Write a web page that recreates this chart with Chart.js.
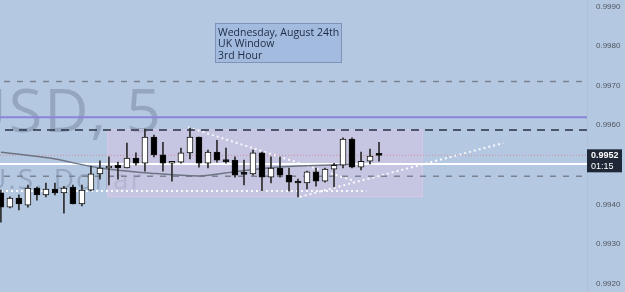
<!DOCTYPE html>
<html>
<head>
<meta charset="utf-8">
<script src="https://cdn.jsdelivr.net/npm/chart.js@4.4.0/dist/chart.umd.min.js"></script>
<style>
  html, body { margin: 0; padding: 0; background: #b4c8e1; }
  canvas { display: block; }
</style>
</head>
<body>
<canvas id="chart" width="625" height="292"></canvas>
<script>
// EURUSD 5 min candles
const opens  = [0.99429,0.99393,0.99416,0.99398,0.99441,0.99424,0.99439,0.99429,0.99444,0.99401,0.99436,0.99477,0.99492,0.99499,0.99492,0.99517,0.99504,0.99570,0.99525,0.99504,0.99507,0.99530,0.99570,0.99504,0.99532,0.99509,0.99512,0.99477,0.99477,0.99530,0.99469,0.99492,0.99474,0.99459,0.99454,0.99482,0.99459,0.99489,0.99499,0.99565,0.99494,0.99509,0.99525];
const highs  = [0.99436,0.99419,0.99424,0.99449,0.99444,0.99454,0.99454,0.99446,0.99449,0.99449,0.99497,0.99510,0.99520,0.99507,0.99555,0.99530,0.99590,0.99575,0.99557,0.99509,0.99542,0.99593,0.99570,0.99537,0.99562,0.99542,0.99520,0.99512,0.99537,0.99532,0.99520,0.99520,0.99492,0.99464,0.99484,0.99492,0.99492,0.99504,0.99568,0.99568,0.99532,0.99540,0.99557];
const lows   = [0.99355,0.99391,0.99386,0.99393,0.99411,0.99419,0.99424,0.99378,0.99401,0.99396,0.99434,0.99464,0.99449,0.99464,0.99492,0.99499,0.99484,0.99520,0.99484,0.99459,0.99504,0.99515,0.99494,0.99492,0.99507,0.99504,0.99469,0.99449,0.99474,0.99434,0.99454,0.99469,0.99434,0.99419,0.99439,0.99446,0.99456,0.99444,0.99492,0.99492,0.99487,0.99502,0.99509];
const closes = [0.99393,0.99416,0.99401,0.99441,0.99424,0.99439,0.99429,0.99441,0.99401,0.99436,0.99477,0.99492,0.99497,0.99492,0.99517,0.99504,0.99570,0.99525,0.99504,0.99509,0.99530,0.99570,0.99504,0.99532,0.99512,0.99508,0.99474,0.99476,0.99530,0.99469,0.99492,0.99474,0.99456,0.99454,0.99482,0.99459,0.99489,0.99499,0.99565,0.99494,0.99509,0.99522,0.99524];

// moving average (bar index, price)
const maIdx  = [0, 5.4, 11, 16.6, 22, 25.8, 29.6, 33.2, 39.3];
const maVals = [0.99532, 0.99517, 0.99492, 0.99479, 0.99472, 0.99482, 0.99492, 0.99497, 0.99502];

// horizontal levels
const upperDash  = 0.99710;
const purpleLine = 0.99620;
const darkDash   = 0.99588;
const lastPrice  = 0.99524;
const whiteLine  = 0.99502;
const lowerDash  = 0.99471;
const dotLow     = 0.99434;
const dotLowEnd  = 40.6;

// trend lines: [startIdx, endIdx], [startPrice, endPrice]
const downIdx = [20.8, 39.3], downPx = [0.99595, 0.99459];
const upIdx   = [33.2, 55.8], upPx   = [0.99419, 0.99555];

// session box
const boxIdx = [11.8, 46.9], boxPx = [0.99418, 0.99590];

const yTicks = [0.9920, 0.9930, 0.9940, 0.9950, 0.9960, 0.9970, 0.9980, 0.9990];
const noteLines = ['Wednesday, August 24th', 'UK Window', '3rd Hour'];
const tagTime = '01:15';

const xMin = -0.1, xMax = 65.1;
const idx = opens.map((_, i) => i);

const hline = (v, color, width, dash, from = xMin - 1, to = xMax + 1) => ({
  type: 'line', data: [{ x: from, y: v }, { x: to, y: v }],
  borderColor: color, borderWidth: width, borderDash: dash || [],
  pointRadius: 0, order: 5
});

const scenePlugin = {
  id: 'scene',
  beforeDraw(chart) {
    const { ctx, width, height } = chart;
    ctx.save();
    ctx.fillStyle = '#b4c8e1';
    ctx.fillRect(0, 0, width, height);
    ctx.restore();
  },
  beforeDatasetsDraw(chart) {
    const { ctx, scales: { x, y } } = chart;
    ctx.save();
    // watermark
    ctx.fillStyle = 'rgba(105,120,148,0.42)';
    ctx.textAlign = 'right';
    ctx.textBaseline = 'alphabetic';
    ctx.letterSpacing = '2px';
    ctx.font = '61px "Open Sans", sans-serif';
    ctx.fillText('EURUSD, 5', 163, 132);
    ctx.font = '28px "Open Sans", sans-serif';
    ctx.fillText('Euro / U.S. Dollar', 144, 189);
    ctx.letterSpacing = '0px';
    // session box
    const l = x.getPixelForValue(boxIdx[0]), r = x.getPixelForValue(boxIdx[1]);
    const t = y.getPixelForValue(boxPx[1]), b = y.getPixelForValue(boxPx[0]);
    ctx.fillStyle = 'rgba(215,195,228,0.5)';
    ctx.fillRect(l, t, r - l, b - t);
    ctx.strokeStyle = 'rgba(220,205,235,0.6)';
    ctx.lineWidth = 1;
    ctx.strokeRect(l + 0.5, t + 0.5, r - l - 1, b - t - 1);
    ctx.restore();
  },
  afterDraw(chart) {
    const { ctx, chartArea, scales: { y } } = chart;
    ctx.save();
    // note box
    ctx.fillStyle = '#a3bbdf';
    ctx.fillRect(215, 23, 126, 39);
    ctx.strokeStyle = '#7f93b8';
    ctx.lineWidth = 1;
    ctx.strokeRect(215.5, 23.5, 126, 39);
    ctx.fillStyle = '#1d2b45';
    ctx.font = '10.5px "Open Sans", sans-serif';
    ctx.textAlign = 'left';
    ctx.textBaseline = 'middle';
    noteLines.forEach((s, i) => ctx.fillText(s, 218, 33 + i * 11.5));
    // price tag
    const py = y.getPixelForValue(lastPrice);
    const tx = chartArea.right;
    ctx.fillStyle = '#1f2737';
    ctx.fillRect(tx, py - 6, 35, 23);
    ctx.fillStyle = '#ffffff';
    ctx.font = 'bold 9px "Liberation Sans", sans-serif';
    ctx.fillText(lastPrice.toFixed(4), tx + 4, py + 0.5);
    ctx.font = '9px "Liberation Sans", sans-serif';
    ctx.fillText(tagTime, tx + 4, py + 11);
    ctx.restore();
  }
};

new Chart(document.getElementById('chart'), {
  type: 'bar',
  data: {
    datasets: [
      {
        label: 'wick', data: idx.map(i => ({ x: i, y: [lows[i], highs[i]] })),
        backgroundColor: '#2b2b2b', barThickness: 1, grouped: false, order: 2
      },
      {
        label: 'body', data: idx.map(i => ({ x: i, y: [opens[i], closes[i]] })),
        backgroundColor: idx.map(i => closes[i] >= opens[i] ? '#ffffff' : '#000000'),
        borderColor: '#111111', borderWidth: 1, borderSkipped: false,
        barThickness: 6, minBarLength: 2, grouped: false, order: 1
      },
      {
        type: 'line', label: 'ma', data: maIdx.map((v, i) => ({ x: v, y: maVals[i] })),
        borderColor: '#6d7483', borderWidth: 1.5, pointRadius: 0,
        cubicInterpolationMode: 'monotone', order: 4
      },
      hline(upperDash, '#7b8292', 1.5, [6, 7]),
      hline(purpleLine, '#8b84d8', 2),
      hline(darkDash, '#2b3142', 1.5, [8, 6]),
      hline(lastPrice, '#d48c98', 1, [1, 2]),
      hline(whiteLine, '#ffffff', 2),
      hline(lowerDash, '#7b8292', 1.5, [6, 7]),
      hline(dotLow, 'rgba(255,255,255,0.9)', 2, [2, 3], xMin - 1, dotLowEnd),
      {
        type: 'line', data: downIdx.map((v, i) => ({ x: v, y: downPx[i] })),
        borderColor: 'rgba(255,255,255,0.9)', borderWidth: 2, borderDash: [2, 3], pointRadius: 0, order: 5
      },
      {
        type: 'line', data: upIdx.map((v, i) => ({ x: v, y: upPx[i] })),
        borderColor: 'rgba(255,255,255,0.9)', borderWidth: 2, borderDash: [2, 3], pointRadius: 0, order: 5
      }
    ]
  },
  options: {
    responsive: false,
    animation: false,
    devicePixelRatio: 1,
    layout: { padding: 0 },
    plugins: { legend: { display: false }, tooltip: { enabled: false } },
    scales: {
      x: { type: 'linear', min: xMin, max: xMax, offset: false, display: false },
      y: {
        position: 'right', min: 0.99179, max: 0.99916,
        afterFit: s => { s.width = 38; s.paddingTop = 0; s.paddingBottom = 0; },
        afterBuildTicks: s => { s.ticks = yTicks.map(v => ({ value: v })); },
        grid: { display: false, drawTicks: false },
        border: { display: true, color: 'rgba(172,188,212,0.6)', width: 1 },
        ticks: {
          padding: 9, color: '#50555f',
          font: { family: '"Liberation Sans", sans-serif', size: 8 },
          callback: v => v.toFixed(4)
        }
      }
    }
  },
  plugins: [scenePlugin]
});
</script>
</body>
</html>
